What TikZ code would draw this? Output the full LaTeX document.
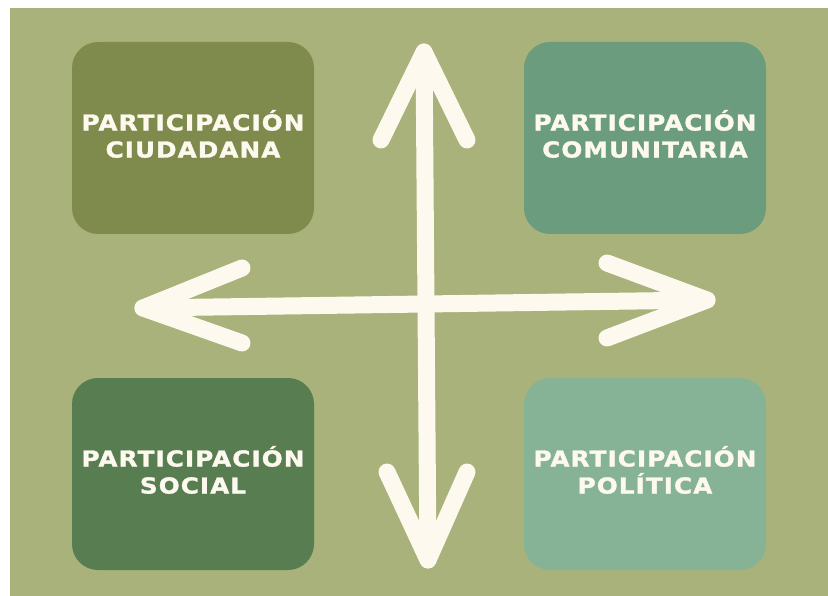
\documentclass[tikz,border=0pt]{standalone}
\usepackage{fontspec}
\newfontfamily\boxfont[FakeStretch=1.12,LetterSpace=5,FakeBold=1.4]{DejaVu Sans Bold}
\definecolor{fondo}{HTML}{A9B27A}
\definecolor{ciudadana}{HTML}{7E8B4C}
\definecolor{comunitaria}{HTML}{6B9C7E}
\definecolor{social}{HTML}{577D50}
\definecolor{politica}{HTML}{86B296}
\definecolor{crema}{HTML}{FDF9EE}
\tikzset{
	caja/.style={rounded corners=26pt, minimum width=242pt, minimum height=192pt,
		inner sep=0pt, fill=#1},
	rotulo/.style={align=center, text=crema, font=\boxfont\fontsize{22}{27}\selectfont},
	flecha/.style={draw=crema, line width=17pt, line cap=round, line join=round}
}

\begin{document}
\begin{tikzpicture}[x=1pt, y=-1pt]
			%%%%% START %%%%%
			
			\useasboundingbox (0, 0) rectangle (828, 596);
			\fill[white] (0, 0) rectangle (828, 596);
			\fill[fondo] (10, 8) rectangle (828, 596);
			
			\node[caja=ciudadana] (ciudadana) at (193, 138) {};
			\node[caja=comunitaria] (comunitaria) at (645, 138) {};
			\node[caja=social] (social) at (193, 474) {};
			\node[caja=politica] (politica) at (645, 474) {};
			
			\node[rotulo] (t-ciudadana) at (193, 134) {PARTICIPACIÓN\\CIUDADANA};
			\node[rotulo] (t-comunitaria) at (645, 134) {PARTICIPACIÓN\\COMUNITARIA};
			\node[rotulo] (t-social) at (193, 470) {PARTICIPACIÓN\\SOCIAL};
			\node[rotulo] (t-politica) at (645, 470) {PARTICIPACIÓN\\POLÍTICA};
			
			\coordinate (arriba) at (424, 52);
			\coordinate (abajo) at (428, 560);
			\coordinate (izquierda) at (143, 308);
			\coordinate (derecha) at (707, 300);
			
			\draw[flecha] (arriba) -- (abajo);
			\draw[flecha] (izquierda) -- (derecha);
			
			\draw[flecha] (381, 140) -- (arriba) -- (467, 140);
			\draw[flecha] (387, 472) -- (abajo) -- (467, 472);
			\draw[flecha] (242, 268) -- (izquierda) -- (242, 343);
			\draw[flecha] (607, 263) -- (derecha) -- (607, 338);
			
			%%%%% END %%%%%
		\end{tikzpicture}
\end{document}
